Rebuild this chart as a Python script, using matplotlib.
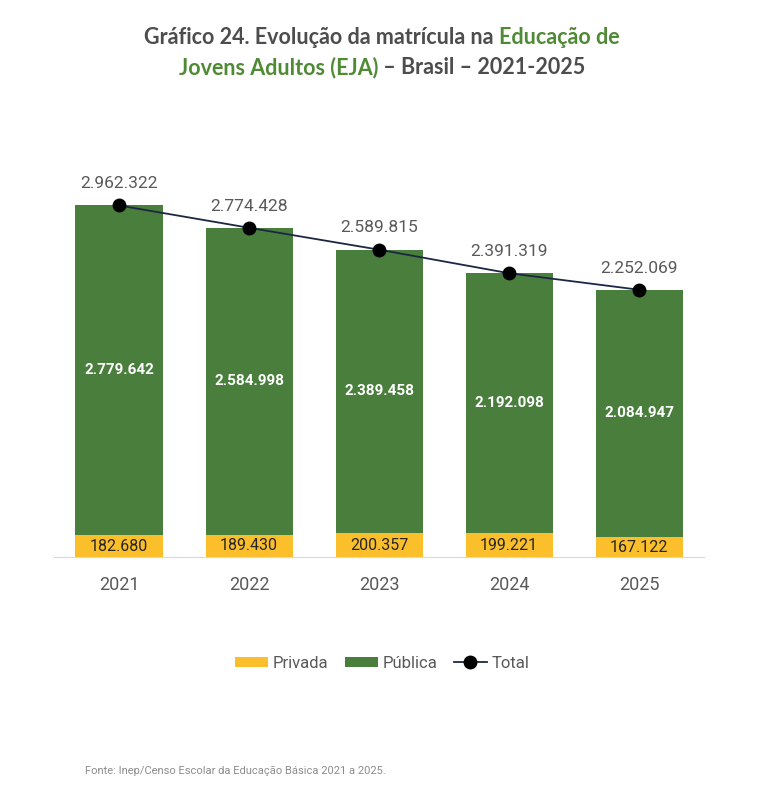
import matplotlib
matplotlib.use("Agg")
import matplotlib.pyplot as plt
from matplotlib import font_manager

# dados
anos = ["2021", "2022", "2023", "2024", "2025"]
privada = [182680, 189430, 200357, 199221, 167122]
publica = [2779642, 2584998, 2389458, 2192098, 2084947]
total = [2962322, 2774428, 2589815, 2391319, 2252069]

VERDE = "#4a7e3c"
AMARELO = "#fbbf2c"
CINZA = "#595959"
TITULO_VERDE = "#4f8a34"

names = {f.name for f in font_manager.fontManager.ttflist}
narrow = "Liberation Sans Narrow" if "Liberation Sans Narrow" in names else "Roboto"
plt.rcParams["font.family"] = [narrow, "DejaVu Sans"]


def fmt(v):
    return f"{v:,}".replace(",", ".")


fig = plt.figure(figsize=(7.64, 7.94), dpi=100)
ax = fig.add_axes([0.0707, 0.2985, 0.851, 0.5126])

x = range(len(anos))
b1 = ax.bar(x, privada, width=0.67, color=AMARELO, label="Privada", zorder=2)
b2 = ax.bar(x, publica, width=0.67, bottom=privada, color=VERDE, label="Pública", zorder=2)
l1, = ax.plot(x, total, color="#1b2744", lw=1.3, marker="o", ms=9, mfc="black",
              mec="black", label="Total", zorder=3)

for i in x:
    ax.text(i, total[i] + 120000, fmt(total[i]), ha="center", va="bottom",
            fontsize=12.5, color=CINZA)
    ax.text(i, privada[i] + publica[i] / 2, fmt(publica[i]), ha="center",
            va="center", fontsize=11, color="white", fontweight="bold")
    ax.text(i, privada[i] / 2, fmt(privada[i]), ha="center", va="center",
            fontsize=11.5, color="#262626")

ax.set_xlim(-0.5, 4.5)
ax.set_ylim(0, 3.43e6)
ax.set_xticks(list(x))
ax.set_xticklabels(anos, fontsize=13, color=CINZA)
ax.tick_params(axis="x", length=0, pad=14)
ax.set_yticks([])
for s in ["top", "right", "left"]:
    ax.spines[s].set_visible(False)
ax.spines["bottom"].set_color("#d9d9d9")
ax.spines["bottom"].set_zorder(1)

leg = fig.legend([b1, b2, l1], ["Privada", "Pública", "Total"], loc="center",
                 bbox_to_anchor=(0.5, 1 - 663 / 794), ncol=3, frameon=False,
                 fontsize=12, handlelength=2.0, handleheight=0.55,
                 columnspacing=1.0, handletextpad=0.25)
for t in leg.get_texts():
    t.set_color(CINZA)

fig.text(85 / 764, 1 - 771 / 794, "Fonte: Inep/Censo Escolar da Educação Básica 2021 a 2025.",
         fontsize=8, color="#8c8c8c", va="center")

# título com partes coloridas
linhas = [
    [("Gráfico 24. Evolução da matrícula na ", "#4d4d4d"), ("Educação de", TITULO_VERDE)],
    [("Jovens Adultos (EJA)", TITULO_VERDE), (" – Brasil – 2021-2025", "#4d4d4d")],
]
ys = [1 - 38 / 794, 1 - 68 / 794]
fig.canvas.draw()
r = fig.canvas.get_renderer()
for partes, y in zip(linhas, ys):
    objs = [fig.text(0, y, s, color=c, fontsize=15.5, fontweight="bold",
                     family=["Lato", "DejaVu Sans"], va="center") for s, c in partes]
    ws = [o.get_window_extent(r).width for o in objs]
    x0 = (382 - sum(ws) / 2)
    for o, w in zip(objs, ws):
        o.set_x(x0 / 764)
        x0 += w

fig.savefig("out.png", dpi=100)
